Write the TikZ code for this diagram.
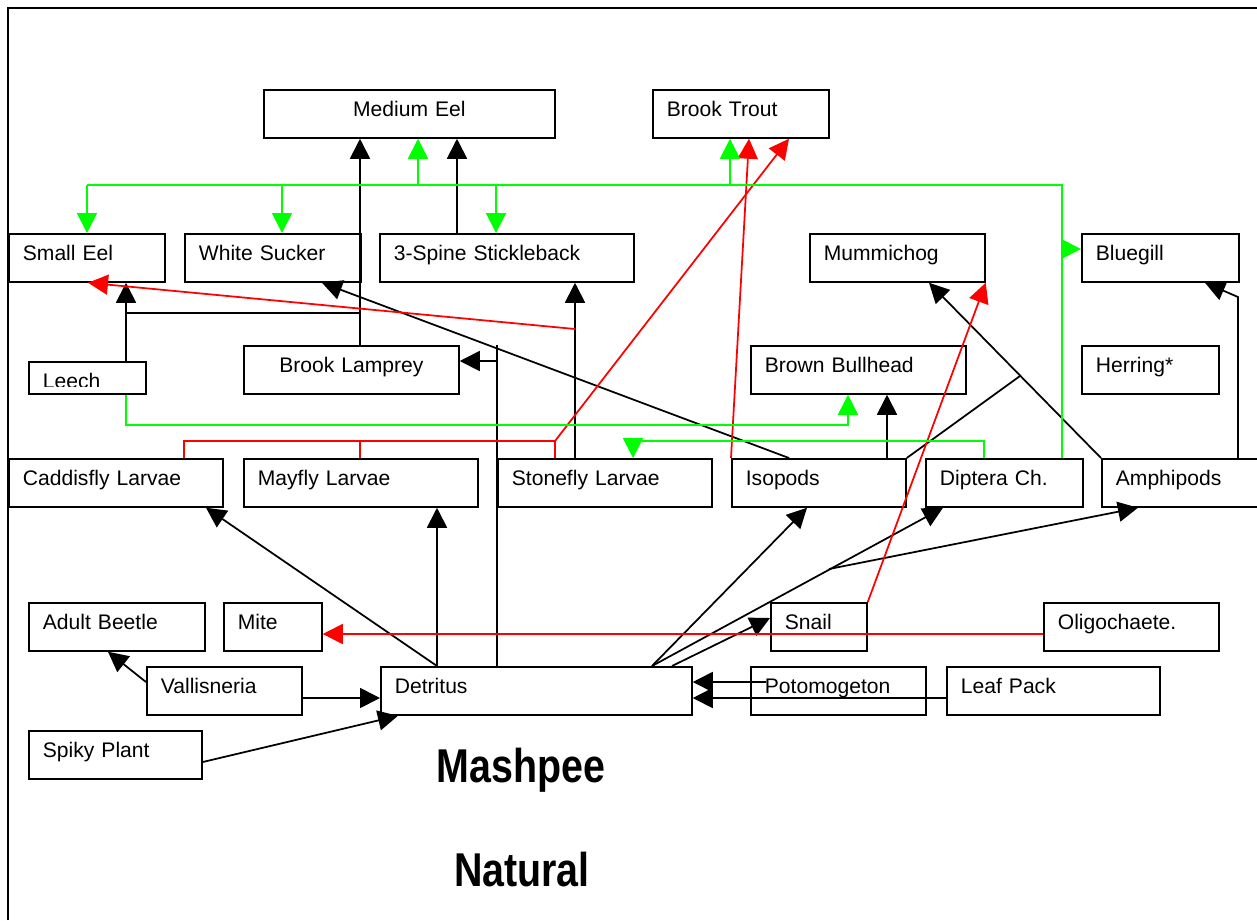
\documentclass[tikz,border=0pt]{standalone}
\usepackage{fontspec}
\setmainfont{Liberation Sans}
\usepackage{xcolor}
\usepackage{tikz}
\usetikzlibrary{arrows.meta}
\definecolor{webred}{HTML}{FF0000}
\definecolor{webgreen}{HTML}{00FF00}

\begin{document}
\begin{tikzpicture}[
  x=0.2mm, y=-0.2mm,
  box/.style={draw, line width=0.35mm, anchor=north west, align=left,
              minimum height=9.6mm, inner xsep=2.8mm, inner ysep=0pt,
              text height=5.4mm, text depth=4.2mm,
              font=\fontsize{12}{14}\selectfont},
  wd/.style={minimum width=#1, text width=#1-5.6mm},
  mid/.style={align=center},
  wire/.style={line width=0.35mm},
  feed/.style={wire, -{Triangle[length=4mm, width=4mm]}},
  redwire/.style={wire, color=webred},
  redfeed/.style={feed, color=webred},
  greenwire/.style={wire, color=webgreen},
  greenfeed/.style={feed, color=webgreen},
  title/.style={font=\bfseries\fontsize{27}{30}\selectfont, anchor=base, xscale=0.83}
]
  \useasboundingbox (0,0) rectangle (1257,920);
  \draw[line width=0.4mm] (8,920) -- (8,8) -- (1257,8);

  % top predators
  \node[box, wd=58.2mm, mid] (medeel) at (263,89) {Medium Eel};
  \node[box, wd=35.2mm] (trout) at (652,89) {Brook Trout};
  % fish
  \node[box, wd=31.2mm] (smalleel) at (8,233) {Small Eel};
  \node[box, wd=35.2mm] (sucker) at (184,233) {White Sucker};
  \node[box, wd=50.8mm] (stickle) at (379,233) {3-Spine Stickleback};
  \node[box, wd=35mm] (mummi) at (809,233) {Mummichog};
  \node[box, wd=31.4mm] (bluegill) at (1081,233) {Bluegill};
  \node[box, wd=23.4mm, minimum height=6.4mm, text height=0pt, text depth=0pt] (leech) at (28,361) {};
  \begin{scope}
    \clip (28,361) rectangle (145,386);
    \node[box, draw=none, wd=23.4mm] (leechtext) at (28,361) {Leech};
  \end{scope}
  \node[box, wd=43mm, mid] (lamprey) at (243,345) {Brook Lamprey};
  \node[box, wd=43mm] (bullhead) at (750,345) {Brown Bullhead};
  \node[box, wd=27.4mm] (herring) at (1081,345) {Herring*};
  % invertebrates
  \node[box, wd=42.8mm] (caddis) at (8,458) {Caddisfly Larvae};
  \node[box, wd=46.8mm] (mayfly) at (243,458) {Mayfly Larvae};
  \node[box, wd=42.8mm] (stonefly) at (497,458) {Stonefly Larvae};
  \node[box, wd=34.8mm] (isopods) at (731,458) {Isopods};
  \node[box, wd=31.4mm] (diptera) at (925,458) {Diptera Ch.};
  \node[box, wd=31.2mm] (amphi) at (1101,458) {Amphipods};
  \node[box, wd=35.2mm] (beetle) at (28,602) {Adult Beetle};
  \node[box, wd=19.6mm] (mite) at (223,602) {Mite};
  \node[box, wd=19.2mm] (snail) at (770,602) {Snail};
  \node[box, wd=35mm] (oligo) at (1043,602) {Oligochaete.};
  % plants and detritus
  \node[box, wd=31mm] (valli) at (146,666) {Vallisneria};
  \node[box, wd=62.2mm] (detritus) at (380,666) {Detritus};
  \node[box, wd=35mm] (pota) at (750,666) {Potomogeton};
  \node[box, wd=42.6mm] (leaf) at (946,666) {Leaf Pack};
  \node[box, wd=34.6mm] (spiky) at (28,730) {Spiky Plant};

  \node[title] (mashpee) at (521,782) {Mashpee};
  \node[title] (natural) at (522,886) {Natural};

  % black links
  \draw[feed] (360,0 |- lamprey.north) -- (360,0 |- medeel.south);
  \draw[wire] (360,313) -- (126,313);
  \draw[feed] (126,0 |- leech.north) -- (126,0 |- smalleel.south);
  \draw[feed] (457,0 |- stickle.north) -- (457,0 |- medeel.south);
  \draw[feed] (575,0 |- stonefly.north) -- (575,0 |- stickle.south);
  \draw[feed] (789,0 |- isopods.north) -- (322,0 |- sucker.south);
  \draw[wire] (497,0 |- detritus.north) -- (497,345);
  \draw[feed] (497,361) -- (lamprey.east |- 497,361);
  \draw[feed] (887,0 |- isopods.north) -- (887,0 |- bullhead.south);
  \draw[feed] (amphi.north west) -- (929,0 |- mummi.south);
  \draw[wire] (isopods.north east) -- (1020,376);
  \draw[feed] (1238,0 |- amphi.north) -- (1238,297) -- (1205,0 |- bluegill.south);
  \draw[feed] (437,0 |- detritus.north) -- (206,0 |- caddis.south);
  \draw[feed] (437,0 |- detritus.north) -- (437,0 |- mayfly.south);
  \draw[feed] (652,0 |- detritus.north) -- (807,0 |- isopods.south);
  \draw[feed] (652,0 |- detritus.north) -- (943,0 |- diptera.south);
  \draw[feed] (829,569) -- (1138,0 |- amphi.south);
  \draw[feed] (672,0 |- detritus.north) -- (snail.west |- 0,618);
  \draw[feed] ([shift={(3.2mm,-3.2mm)}]pota.north west) -- (detritus.east |- 0,682);
  \draw[feed] (leaf.west |- 0,698) -- (detritus.east |- 0,698);
  \draw[feed] (valli.east |- 0,698) -- (detritus.west |- 0,698);
  \draw[feed] (valli.west |- 0,682) -- (108,0 |- beetle.south);
  \draw[feed] (spiky.east |- 0,762) -- (398,0 |- detritus.south);

  % red links
  \draw[redfeed] (575,329) -- (88,0 |- smalleel.south);
  \draw[redwire] (184,0 |- caddis.north) |- (555,441) -- (555,0 |- stonefly.north);
  \draw[redwire] (360,0 |- mayfly.north) -- (360,441);
  \draw[redfeed] (555,441) -- (789,0 |- trout.south);
  \draw[redfeed] (isopods.north west) -- (749,0 |- trout.south);
  \draw[redfeed] (snail.north east) -- (mummi.south east);
  \draw[redfeed] (oligo.west |- 0,634) -- (mite.east |- 0,634);

  % green links
  \draw[greenwire] (1062,0 |- diptera.north) -- (1062,185) -- (87,185);
  \draw[greenfeed] (87,185) -- (87,0 |- smalleel.north);
  \draw[greenfeed] (282,185) -- (282,0 |- sucker.north);
  \draw[greenfeed] (496,185) -- (496,0 |- stickle.north);
  \draw[greenfeed] (418,185) -- (418,0 |- medeel.south);
  \draw[greenfeed] (730,185) -- (730,0 |- trout.south);
  \draw[greenfeed] (1062,249) -- (bluegill.west |- 0,249);
  \draw[greenfeed] (126,0 |- leech.south) |- (848,425) -- (848,0 |- bullhead.south);
  \draw[greenfeed] (984,0 |- diptera.north) |- (633,441) -- (633,0 |- stonefly.north);
\end{tikzpicture}
\end{document}
